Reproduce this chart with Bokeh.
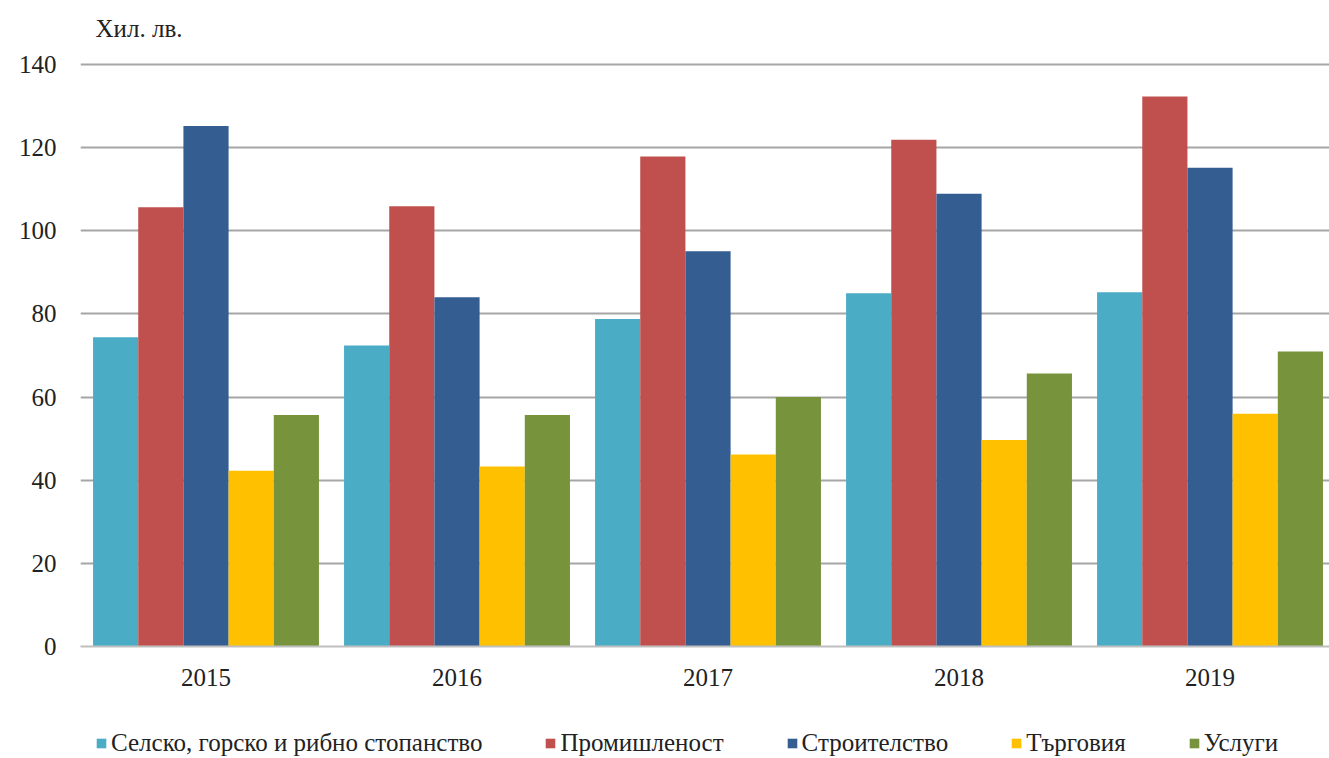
from bokeh.plotting import figure
from bokeh.layouts import column
from bokeh.models import Range1d, FixedTicker, Legend, LegendItem
from bokeh.core.properties import value
from bokeh.embed import file_html
from bokeh.resources import INLINE

years = ["2015", "2016", "2017", "2018", "2019"]
series_names = ["Селско, горско и рибно стопанство", "Промишленост", "Строителство", "Търговия", "Услуги"]
agri = [74.4, 72.4, 78.8, 85.0, 85.2]
industry = [105.7, 105.9, 117.9, 121.9, 132.3]
construction = [125.2, 84.0, 95.1, 108.9, 115.2]
trade = [42.3, 43.3, 46.2, 49.7, 56.0]
services = [55.7, 55.7, 60.0, 65.7, 71.0]
y_ticks = [0, 20, 40, 60, 80, 100, 120, 140]
unit_label = "Хил. лв."

colors = ["#4BACC6", "#C0504D", "#345E92", "#FFC000", "#77933C"]
FONT = "Liberation Serif"
FS = "25px"
TXT = "#222222"
W = 1329
LEFT = 80

# header strip with the unit label
tf = figure(width=W, height=52, output_backend="svg", toolbar_location=None, title=None,
            x_range=Range1d(0, 1), y_range=Range1d(0, 1),
            x_axis_type=None, y_axis_type=None,
            min_border_left=LEFT, min_border_right=0, min_border_top=0, min_border_bottom=0)
tf.outline_line_color = None
tf.xgrid.visible = False
tf.ygrid.visible = False
tf.text(x=[0], y=[1], text=[unit_label], x_offset=15, y_offset=28,
        text_baseline="middle", text_align="left",
        text_font=value(FONT), text_font_size=FS, text_color=TXT)

# main chart
p = figure(width=W, height=658, output_backend="svg", toolbar_location=None, title=None,
           x_range=Range1d(-0.5, 4.476), y_range=Range1d(0, 140.5),
           min_border_left=LEFT, min_border_right=0, min_border_top=10, min_border_bottom=64)
p.outline_line_color = None
p.background_fill_color = "white"

all_series = [agri, industry, construction, trade, services]
offsets = [-0.36, -0.18, 0.0, 0.18, 0.36]
xs = list(range(len(years)))
for vals, col, off in zip(all_series, colors, offsets):
    p.vbar(x=[x + off for x in xs], top=vals, width=0.18, bottom=0,
           fill_color=col, line_color=None)

p.xaxis.ticker = FixedTicker(ticks=xs)
p.xaxis.major_label_overrides = {i: y for i, y in enumerate(years)}
p.xaxis.major_tick_out = 0
p.xaxis.major_tick_in = 0
p.xaxis.minor_tick_line_color = None
p.xaxis.axis_line_color = "#BFBFBF"
p.xaxis.axis_line_width = 2
p.xaxis.major_label_text_font = FONT
p.xaxis.major_label_text_font_size = FS
p.xaxis.major_label_text_color = TXT
p.xaxis.major_label_standoff = 22

p.yaxis.ticker = FixedTicker(ticks=y_ticks)
p.yaxis.major_tick_out = 0
p.yaxis.major_tick_in = 0
p.yaxis.minor_tick_line_color = None
p.yaxis.axis_line_color = None
p.yaxis.major_label_text_font = FONT
p.yaxis.major_label_text_font_size = FS
p.yaxis.major_label_text_color = TXT
p.yaxis.major_label_standoff = 24

p.xgrid.grid_line_color = None
p.ygrid.ticker = FixedTicker(ticks=y_ticks)
p.ygrid.grid_line_color = "#A6A6A6"
p.ygrid.grid_line_width = 2

# legend strip below the chart
lg = figure(width=W, height=48, output_backend="svg", toolbar_location=None, title=None,
            x_range=Range1d(0, 1), y_range=Range1d(0, 1),
            x_axis_type=None, y_axis_type=None,
            min_border_left=LEFT, min_border_right=0, min_border_top=4, min_border_bottom=0)
lg.outline_line_color = None
lg.xgrid.visible = False
lg.ygrid.visible = False
items = []
for name, col in zip(series_names, colors):
    # zero-height proxy bar, used only as the legend swatch
    r = lg.vbar(x=[0.5], top=[0], bottom=[0], width=0.0, fill_color=col, line_color=None)
    items.append(LegendItem(label=name, renderers=[r]))

legend = Legend(items=items, orientation="horizontal", location="top_left",
                border_line_color=None, background_fill_alpha=0,
                label_text_font=FONT, label_text_font_size=FS,
                label_text_color=TXT,
                glyph_width=12, glyph_height=12, label_standoff=4,
                spacing=62, padding=0, margin=15)
lg.add_layout(legend, "center")

layout = column(tf, p, lg, spacing=0)
open("out.html", "w").write(file_html(layout, INLINE))
